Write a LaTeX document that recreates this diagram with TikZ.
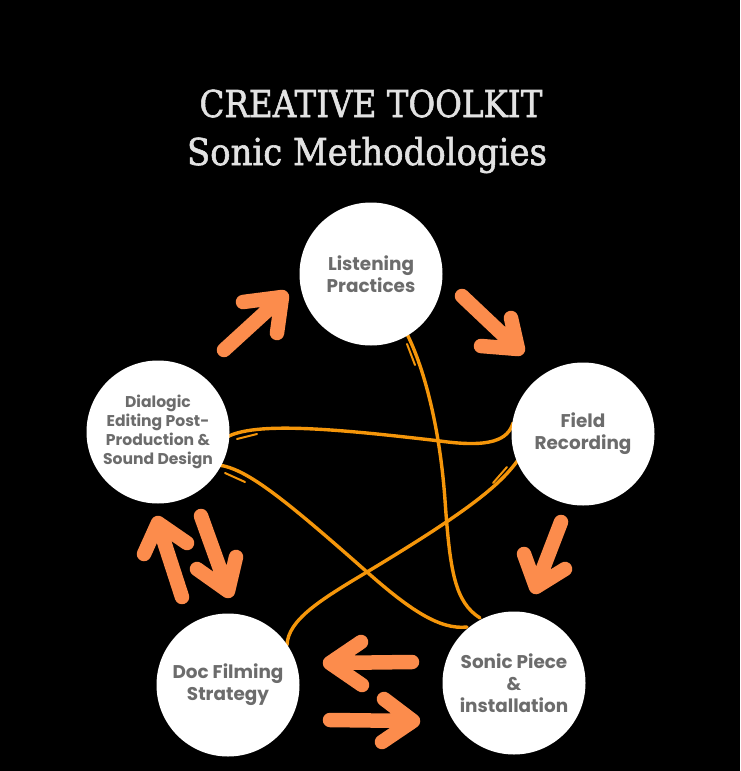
\documentclass[tikz,border=0pt]{standalone}
\usepackage{fontspec}
\usepackage{graphicx}
\newfontfamily\titlefont{DejaVu Serif}[RawFeature={embolden=1.6}]
\newfontfamily\nodefont{Poppins}
\definecolor{arroworange}{RGB}{252,140,76}
\definecolor{lineorange}{RGB}{245,150,10}
\definecolor{textgrey}{RGB}{108,108,108}
\definecolor{titlegrey}{RGB}{226,226,226}
\tikzset{
  circ/.style={circle, fill=white, minimum size=143pt, inner sep=0pt,
    font=\nodefont\bfseries\fontsize{18.4}{22}\selectfont, text=textgrey, align=center},
  smalltext/.style={font=\nodefont\bfseries\fontsize{15.6}{19}\selectfont},
  titletext/.style={font=\titlefont\fontsize{37}{44}\selectfont, text=titlegrey, anchor=base, inner sep=0pt},
  fat/.style={draw=arroworange, line width=14.5pt, line cap=round, line join=round},
  conn/.style={draw=lineorange, line width=3.4pt, line cap=round},
  sketchline/.style={draw=lineorange, line width=2pt, line cap=round}
}
\begin{document}
\begin{tikzpicture}[x=1pt,y=-1pt]
\fill[black] (0,0) rectangle (740,771);
\useasboundingbox (0,0) rectangle (740,771);

% titles
\node[titletext] (title1) at (371,117) {\resizebox{343pt}{\height}{CREATIVE TOOLKIT}};
\node[titletext] (title2) at (367,165) {\resizebox{360pt}{\height}{Sonic Methodologies}};

% connectors (drawn first, under circles)
\coordinate (c1a) at (407,334);
\coordinate (c1b) at (480,618);
\draw[conn] (c1a) .. controls (425,370) and (440,430) .. (445,500)
                  .. controls (450,572) and (455,602) .. (c1b);
\draw[sketchline] (407,344) -- (415,365);

\coordinate (c2a) at (227,437);
\coordinate (c2b) at (513,423);
\draw[conn] (c2a) .. controls (255,422) and (330,428) .. (440,441)
                  .. controls (490,448) and (508,440) .. (c2b);
\draw[sketchline] (237,439) -- (257,434);

\coordinate (c3a) at (218,465);
\coordinate (c3b) at (467,627);
\draw[conn] (c3a) .. controls (245,468) and (280,495) .. (367,572)
                  .. controls (410,610) and (440,630) .. (c3b);
\draw[sketchline] (225,473) -- (245,482);

\coordinate (c4a) at (518,460);
\coordinate (c4b) at (287,645);
\draw[conn] (c4a) .. controls (500,485) and (470,510) .. (367,572)
                  .. controls (320,600) and (288,620) .. (c4b);
\draw[sketchline] (493,483) -- (507,467);

% circles
\node[circ] (listen) at (371,274) {Listening\\Practices};
\node[circ] (field) at (583,434) {Field\\Recording};
\node[circ, smalltext] (dialog) at (158,432) {Dialogic\\Editing Post-\\Production \&\\Sound Design};
\node[circ] (doc) at (228,685) {Doc Filming\\Strategy};
\node[circ] (sonic) at (514,683) {Sonic Piece\\\&\\installation};

% fat arrows
\coordinate (a1t) at (224,350); \coordinate (a1h) at (282,297);
\coordinate (a1l) at (243,302); \coordinate (a1r) at (277,333);
\draw[fat] (a1t) -- (a1h) (a1l) -- (a1h) -- (a1r);

\coordinate (a2t) at (462,296); \coordinate (a2h) at (518,349);
\coordinate (a2l) at (511,318); \coordinate (a2r) at (481,346);
\draw[fat] (a2t) -- (a2h) (a2l) -- (a2h) -- (a2r);

\coordinate (a3t) at (561,522); \coordinate (a3h) at (536,587);
\coordinate (a3l) at (524,554); \coordinate (a3r) at (565,569);
\draw[fat] (a3t) -- (a3h) (a3l) -- (a3h) -- (a3r);

\coordinate (a4t) at (412,662); \coordinate (a4h) at (330,663);
\coordinate (a4l) at (361,642); \coordinate (a4r) at (362,685);
\draw[fat] (a4t) -- (a4h) (a4l) -- (a4h) -- (a4r);

\coordinate (a5t) at (330,720); \coordinate (a5h) at (413,721);
\coordinate (a5l) at (384,699); \coordinate (a5r) at (382,742);
\draw[fat] (a5t) -- (a5h) (a5l) -- (a5h) -- (a5r);

\coordinate (a6t) at (182,597); \coordinate (a6h) at (158,523);
\coordinate (a6l) at (144,554); \coordinate (a6r) at (187,543);
\draw[fat] (a6t) -- (a6h) (a6l) -- (a6h) -- (a6r);

\coordinate (a7t) at (201,516); \coordinate (a7h) at (228,591);
\coordinate (a7l) at (197,569); \coordinate (a7r) at (236,557);
\draw[fat] (a7t) -- (a7h) (a7l) -- (a7h) -- (a7r);
\end{tikzpicture}
\end{document}
